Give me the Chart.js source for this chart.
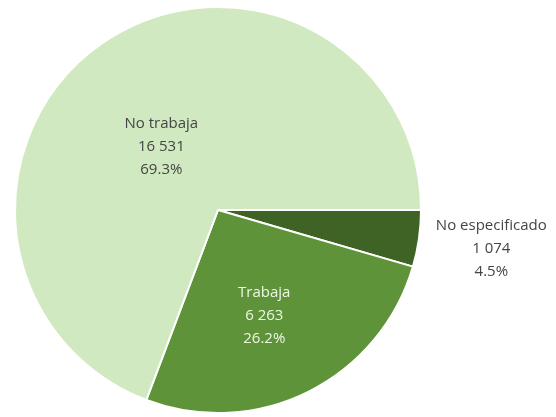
<!DOCTYPE html>
<html>
<head>
<meta charset="utf-8">
<script src="https://cdn.jsdelivr.net/npm/chart.js@4"></script>
<style>
  html, body { margin: 0; padding: 0; background: #fff; }
  #box { width: 556px; height: 417px; }
</style>
</head>
<body>
<div id="box"><canvas id="pieChart"></canvas></div>
<script>
  // categorias y valores (en sentido horario desde las 3 en punto)
  let categorias = ['No especificado', 'Trabaja', 'No trabaja']
  let valores = [1074, 6263, 16531]
  let colores = ['#3f6324', '#5f9339', '#d0e9c0']

  // posicion y color de cada etiqueta
  let radioEtiqueta = [1.36, 0.57, 0.42]
  let giroEtiqueta = [0, 3, -7]
  let colorTexto = ['#454545', '#eef7e4', '#454545']

  let total = valores.reduce((a, b) => a + b, 0)

  function miles(n) {
    return String(n).replace(/\B(?=(\d{3})+(?!\d))/g, ' ')
  }

  const etiquetas = {
    id: 'etiquetas',
    afterDatasetsDraw(chart) {
      const ctx = chart.ctx
      const arcs = chart.getDatasetMeta(0).data
      ctx.save()
      ctx.font = '15px "Open Sans", sans-serif'
      ctx.textAlign = 'center'
      ctx.textBaseline = 'middle'
      arcs.forEach((arc, i) => {
        const mid = (arc.startAngle + arc.endAngle) / 2 + giroEtiqueta[i] * Math.PI / 180
        const r = arc.outerRadius * radioEtiqueta[i]
        const x = arc.x + Math.cos(mid) * r
        const y = arc.y + Math.sin(mid) * r
        const pct = (valores[i] / total * 100).toFixed(1) + '%'
        const lineas = [categorias[i], miles(valores[i]), pct]
        ctx.fillStyle = colorTexto[i]
        lineas.forEach((t, k) => ctx.fillText(t, x, y + (k - 1) * 23))
      })
      ctx.restore()
    }
  }

  let ctx = document.getElementById('pieChart').getContext('2d')
  let myChart = new Chart(ctx, {
    type: 'pie',
    data: {
      labels: categorias,
      datasets: [{
        data: valores,
        backgroundColor: colores,
        borderColor: '#ffffff',
        borderWidth: 2
      }]
    },
    options: {
      responsive: true,
      maintainAspectRatio: false,
      animation: false,
      rotation: 90,
      layout: { padding: { left: 14, right: 134, top: 6, bottom: 3 } },
      plugins: {
        legend: { display: false },
        tooltip: { enabled: false }
      }
    },
    plugins: [etiquetas]
  })
</script>
</body>
</html>
